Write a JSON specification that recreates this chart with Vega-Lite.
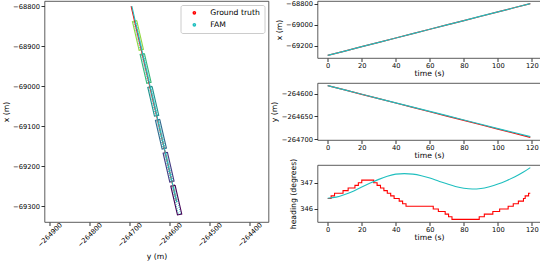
{
  "$schema": "https://vega.github.io/schema/vega-lite/v6.json",
  "background": "white",
  "padding": {"left": 1.5, "top": 0, "right": 2, "bottom": 2},
  "bounds": "flush",
  "spacing": 49,
  "config": {
    "font": "DejaVu Sans",
    "view": {"stroke": "#333", "strokeWidth": 0.8},
    "axis": {
      "grid": false, "domain": false,
      "labelFont": "DejaVu Sans", "labelFontSize": 6.7, "labelColor": "#000",
      "titleFont": "DejaVu Sans", "titleFontSize": 7.7, "titleFontWeight": "normal", "titleColor": "#000",
      "tickColor": "#333", "tickSize": 3.5, "labelPadding": 1.5, "titlePadding": 2.5
    },
    "axisBottom": {"labelPadding": 0.5, "titlePadding": 0.5},
    "legend": {
      "labelFont": "DejaVu Sans", "labelFontSize": 7.7, "labelColor": "#000"
    }
  },
  "datasets": {
    "track": [
      {"time": 0, "x": -69290, "y": -264582, "series": "Ground truth"},
      {"time": 10, "x": -69248.8, "y": -264591.6, "series": "Ground truth"},
      {"time": 20, "x": -69207.6, "y": -264601.2, "series": "Ground truth"},
      {"time": 30, "x": -69166.5, "y": -264610.7, "series": "Ground truth"},
      {"time": 40, "x": -69125.3, "y": -264620.3, "series": "Ground truth"},
      {"time": 50, "x": -69084.1, "y": -264629.9, "series": "Ground truth"},
      {"time": 60, "x": -69042.9, "y": -264639.5, "series": "Ground truth"},
      {"time": 70, "x": -69001.8, "y": -264649.1, "series": "Ground truth"},
      {"time": 80, "x": -68960.6, "y": -264658.6, "series": "Ground truth"},
      {"time": 90, "x": -68919.4, "y": -264668.2, "series": "Ground truth"},
      {"time": 100, "x": -68878.2, "y": -264677.8, "series": "Ground truth"},
      {"time": 110, "x": -68837.1, "y": -264687.4, "series": "Ground truth"},
      {"time": 119, "x": -68800, "y": -264696, "series": "Ground truth"},
      {"time": 0, "x": -69290, "y": -264582, "series": "FAM"},
      {"time": 10, "x": -69248.8, "y": -264591.5, "series": "FAM"},
      {"time": 20, "x": -69207.6, "y": -264601.0, "series": "FAM"},
      {"time": 30, "x": -69166.4, "y": -264610.5, "series": "FAM"},
      {"time": 40, "x": -69125.2, "y": -264620.0, "series": "FAM"},
      {"time": 50, "x": -69084.0, "y": -264629.4, "series": "FAM"},
      {"time": 60, "x": -69042.8, "y": -264638.8, "series": "FAM"},
      {"time": 70, "x": -69001.6, "y": -264648.2, "series": "FAM"},
      {"time": 80, "x": -68960.4, "y": -264657.7, "series": "FAM"},
      {"time": 90, "x": -68919.2, "y": -264667.1, "series": "FAM"},
      {"time": 100, "x": -68878.0, "y": -264676.5, "series": "FAM"},
      {"time": 110, "x": -68836.9, "y": -264685.8, "series": "FAM"},
      {"time": 119, "x": -68799.8, "y": -264694.2, "series": "FAM"}
    ],
    "heading": [
      {"time": 0, "heading": 346.4, "series": "Ground truth"},
      {"time": 2, "heading": 346.5, "series": "Ground truth"},
      {"time": 4, "heading": 346.6, "series": "Ground truth"},
      {"time": 9, "heading": 346.7, "series": "Ground truth"},
      {"time": 12, "heading": 346.8, "series": "Ground truth"},
      {"time": 16, "heading": 346.9, "series": "Ground truth"},
      {"time": 18, "heading": 347.0, "series": "Ground truth"},
      {"time": 20, "heading": 347.1, "series": "Ground truth"},
      {"time": 27, "heading": 347.0, "series": "Ground truth"},
      {"time": 29, "heading": 346.9, "series": "Ground truth"},
      {"time": 31, "heading": 346.8, "series": "Ground truth"},
      {"time": 33, "heading": 346.7, "series": "Ground truth"},
      {"time": 35, "heading": 346.6, "series": "Ground truth"},
      {"time": 37, "heading": 346.5, "series": "Ground truth"},
      {"time": 39, "heading": 346.4, "series": "Ground truth"},
      {"time": 42, "heading": 346.3, "series": "Ground truth"},
      {"time": 44, "heading": 346.2, "series": "Ground truth"},
      {"time": 46, "heading": 346.1, "series": "Ground truth"},
      {"time": 62, "heading": 346.0, "series": "Ground truth"},
      {"time": 65, "heading": 345.9, "series": "Ground truth"},
      {"time": 69, "heading": 345.8, "series": "Ground truth"},
      {"time": 71, "heading": 345.7, "series": "Ground truth"},
      {"time": 73, "heading": 345.6, "series": "Ground truth"},
      {"time": 89, "heading": 345.7, "series": "Ground truth"},
      {"time": 92, "heading": 345.8, "series": "Ground truth"},
      {"time": 97, "heading": 345.9, "series": "Ground truth"},
      {"time": 101, "heading": 346.0, "series": "Ground truth"},
      {"time": 106, "heading": 346.1, "series": "Ground truth"},
      {"time": 109, "heading": 346.2, "series": "Ground truth"},
      {"time": 112, "heading": 346.3, "series": "Ground truth"},
      {"time": 115, "heading": 346.4, "series": "Ground truth"},
      {"time": 116, "heading": 346.5, "series": "Ground truth"},
      {"time": 118, "heading": 346.6, "series": "Ground truth"},
      {"time": 119, "heading": 346.6, "series": "Ground truth"},
      {"time": 0, "heading": 346.41, "series": "FAM"},
      {"time": 5, "heading": 346.45, "series": "FAM"},
      {"time": 10, "heading": 346.55, "series": "FAM"},
      {"time": 15, "heading": 346.68, "series": "FAM"},
      {"time": 20, "heading": 346.84, "series": "FAM"},
      {"time": 25, "heading": 346.99, "series": "FAM"},
      {"time": 30, "heading": 347.13, "series": "FAM"},
      {"time": 35, "heading": 347.25, "series": "FAM"},
      {"time": 40, "heading": 347.33, "series": "FAM"},
      {"time": 45, "heading": 347.35, "series": "FAM"},
      {"time": 50, "heading": 347.33, "series": "FAM"},
      {"time": 55, "heading": 347.27, "series": "FAM"},
      {"time": 60, "heading": 347.18, "series": "FAM"},
      {"time": 65, "heading": 347.07, "series": "FAM"},
      {"time": 70, "heading": 346.96, "series": "FAM"},
      {"time": 75, "heading": 346.86, "series": "FAM"},
      {"time": 80, "heading": 346.79, "series": "FAM"},
      {"time": 85, "heading": 346.76, "series": "FAM"},
      {"time": 90, "heading": 346.78, "series": "FAM"},
      {"time": 95, "heading": 346.85, "series": "FAM"},
      {"time": 100, "heading": 346.95, "series": "FAM"},
      {"time": 105, "heading": 347.08, "series": "FAM"},
      {"time": 110, "heading": 347.23, "series": "FAM"},
      {"time": 115, "heading": 347.41, "series": "FAM"},
      {"time": 119, "heading": 347.58, "series": "FAM"}
    ],
    "ships": [
      {"ship": 0, "t": 0, "k": 0, "x": -69247.81, "y": -264586.07},
      {"ship": 0, "t": 0, "k": 1, "x": -69250.29, "y": -264596.78},
      {"ship": 0, "t": 0, "k": 2, "x": -69322.39, "y": -264580.13},
      {"ship": 0, "t": 0, "k": 3, "x": -69319.91, "y": -264569.42},
      {"ship": 0, "t": 0, "k": 4, "x": -69247.81, "y": -264586.07},
      {"ship": 1, "t": 20, "k": 0, "x": -69165.41, "y": -264605.27},
      {"ship": 1, "t": 20, "k": 1, "x": -69167.89, "y": -264615.98},
      {"ship": 1, "t": 20, "k": 2, "x": -69239.99, "y": -264599.33},
      {"ship": 1, "t": 20, "k": 3, "x": -69237.51, "y": -264588.62},
      {"ship": 1, "t": 20, "k": 4, "x": -69165.41, "y": -264605.27},
      {"ship": 2, "t": 40, "k": 0, "x": -69083.11, "y": -264624.37},
      {"ship": 2, "t": 40, "k": 1, "x": -69085.59, "y": -264635.08},
      {"ship": 2, "t": 40, "k": 2, "x": -69157.69, "y": -264618.43},
      {"ship": 2, "t": 40, "k": 3, "x": -69155.21, "y": -264607.72},
      {"ship": 2, "t": 40, "k": 4, "x": -69083.11, "y": -264624.37},
      {"ship": 3, "t": 60, "k": 0, "x": -69000.71, "y": -264643.57},
      {"ship": 3, "t": 60, "k": 1, "x": -69003.19, "y": -264654.28},
      {"ship": 3, "t": 60, "k": 2, "x": -69075.29, "y": -264637.63},
      {"ship": 3, "t": 60, "k": 3, "x": -69072.81, "y": -264626.92},
      {"ship": 3, "t": 60, "k": 4, "x": -69000.71, "y": -264643.57},
      {"ship": 4, "t": 80, "k": 0, "x": -68918.41, "y": -264662.67},
      {"ship": 4, "t": 80, "k": 1, "x": -68920.89, "y": -264673.38},
      {"ship": 4, "t": 80, "k": 2, "x": -68992.99, "y": -264656.73},
      {"ship": 4, "t": 80, "k": 3, "x": -68990.51, "y": -264646.02},
      {"ship": 4, "t": 80, "k": 4, "x": -68918.41, "y": -264662.67},
      {"ship": 5, "t": 100, "k": 0, "x": -68836.01, "y": -264681.87},
      {"ship": 5, "t": 100, "k": 1, "x": -68838.49, "y": -264692.58},
      {"ship": 5, "t": 100, "k": 2, "x": -68910.59, "y": -264675.93},
      {"ship": 5, "t": 100, "k": 3, "x": -68908.11, "y": -264665.22},
      {"ship": 5, "t": 100, "k": 4, "x": -68836.01, "y": -264681.87}
    ],
    "hull": [
      {"ship": 0, "k": 0, "x": -69250.37, "y": -264588.25},
      {"ship": 0, "k": 1, "x": -69251.63, "y": -264593.70},
      {"ship": 0, "k": 2, "x": -69319.83, "y": -264577.95},
      {"ship": 0, "k": 3, "x": -69318.57, "y": -264572.50},
      {"ship": 0, "k": 4, "x": -69250.37, "y": -264588.25},
      {"ship": 1, "k": 0, "x": -69167.97, "y": -264607.45},
      {"ship": 1, "k": 1, "x": -69169.23, "y": -264612.90},
      {"ship": 1, "k": 2, "x": -69237.43, "y": -264597.15},
      {"ship": 1, "k": 3, "x": -69236.17, "y": -264591.70},
      {"ship": 1, "k": 4, "x": -69167.97, "y": -264607.45},
      {"ship": 2, "k": 0, "x": -69085.67, "y": -264626.55},
      {"ship": 2, "k": 1, "x": -69086.93, "y": -264632.00},
      {"ship": 2, "k": 2, "x": -69155.13, "y": -264616.25},
      {"ship": 2, "k": 3, "x": -69153.87, "y": -264610.80},
      {"ship": 2, "k": 4, "x": -69085.67, "y": -264626.55},
      {"ship": 3, "k": 0, "x": -69003.27, "y": -264645.75},
      {"ship": 3, "k": 1, "x": -69004.53, "y": -264651.20},
      {"ship": 3, "k": 2, "x": -69072.73, "y": -264635.45},
      {"ship": 3, "k": 3, "x": -69071.47, "y": -264630.00},
      {"ship": 3, "k": 4, "x": -69003.27, "y": -264645.75},
      {"ship": 4, "k": 0, "x": -68920.97, "y": -264664.85},
      {"ship": 4, "k": 1, "x": -68922.23, "y": -264670.30},
      {"ship": 4, "k": 2, "x": -68990.43, "y": -264654.55},
      {"ship": 4, "k": 3, "x": -68989.17, "y": -264649.10},
      {"ship": 4, "k": 4, "x": -68920.97, "y": -264664.85},
      {"ship": 5, "k": 0, "x": -68838.57, "y": -264684.05},
      {"ship": 5, "k": 1, "x": -68839.83, "y": -264689.50},
      {"ship": 5, "k": 2, "x": -68908.03, "y": -264673.75},
      {"ship": 5, "k": 3, "x": -68906.77, "y": -264668.30},
      {"ship": 5, "k": 4, "x": -68838.57, "y": -264684.05}
    ]
  },
  "resolve": {"scale": {"color": "independent"}, "legend": {"color": "independent"}},
  "hconcat": [
    {
      "width": 224,
      "height": 221,
      "resolve": {"scale": {"color": "independent"}, "legend": {"color": "independent"}},
      "layer": [
        {
          "data": {"name": "hull"},
          "mark": {"type": "line", "strokeWidth": 1, "color": "#1fbfbf", "strokeDash": [1, 1], "opacity": 0.85},
          "encoding": {
            "x": {"field": "y", "type": "quantitative",
              "scale": {"domain": [-264912.5, -264352.5], "nice": false, "zero": false},
              "axis": {"values": [-264900, -264800, -264700, -264600, -264500, -264400], "format": "d", "labelAngle": -45, "labelAlign": "center", "labelBaseline": "middle", "labelPadding": 9, "title": "y (m)", "titlePadding": 4}},
            "y": {"field": "x", "type": "quantitative",
              "scale": {"domain": [-69340, -68787], "nice": false, "zero": false},
              "axis": {"values": [-69300, -69200, -69100, -69000, -68900, -68800], "format": "d", "title": "x (m)"}},
            "order": {"field": "k", "type": "quantitative"},
            "detail": {"field": "ship", "type": "nominal"}
          }
        },
        {
          "data": {"name": "ships"},
          "mark": {"type": "line", "strokeWidth": 1.1},
          "encoding": {
            "x": {"field": "y", "type": "quantitative"},
            "y": {"field": "x", "type": "quantitative"},
            "order": {"field": "k", "type": "quantitative"},
            "detail": {"field": "ship", "type": "nominal"},
            "color": {"field": "t", "type": "quantitative", "scale": {"scheme": "viridis", "domain": [0, 119]}, "legend": null}
          }
        },
        {
          "data": {"name": "track"},
          "mark": {"type": "line", "strokeWidth": 1.1},
          "encoding": {
            "x": {"field": "y", "type": "quantitative"},
            "y": {"field": "x", "type": "quantitative"},
            "order": {"field": "time", "type": "quantitative"},
            "color": {"field": "series", "type": "nominal",
              "scale": {"domain": ["Ground truth", "FAM"], "range": ["#ff0000", "#1fbfbf"]},
              "legend": {"title": null, "orient": "top-right", "offset": 4, "fillColor": "white", "strokeColor": "#cccccc", "cornerRadius": 2, "padding": 4, "symbolType": "circle", "symbolSize": 5, "symbolStrokeWidth": 1.5, "symbolOffset": 6, "labelOffset": 12, "rowPadding": 3}}
          }
        }
      ]
    },
    {
      "vconcat": [
        {
          "width": 223,
          "height": 57,
          "data": {"name": "track"},
          "encoding": {
            "x": {"field": "time", "type": "quantitative",
              "scale": {"domain": [-6, 125], "nice": false, "zero": false},
              "axis": {"values": [0, 20, 40, 60, 80, 100, 120], "title": "time (s)"}},
            "y": {"field": "x", "type": "quantitative",
              "scale": {"domain": [-69314.5, -68775.5], "nice": false, "zero": false},
              "axis": {"values": [-69200, -69000, -68800], "format": "d", "title": "x (m)"}},
            "color": {"field": "series", "type": "nominal",
              "scale": {"domain": ["Ground truth", "FAM"], "range": ["#ff0000", "#1fbfbf"]}, "legend": null},
            "order": {"field": "time", "type": "quantitative"}
          },
          "layer": [
            {"transform": [{"filter": {"field": "series", "equal": "Ground truth"}}], "mark": {"type": "line", "strokeWidth": 1.2}},
            {"transform": [{"filter": {"field": "series", "equal": "FAM"}}], "mark": {"type": "line", "strokeWidth": 1.2}}
          ]
        },
        {
          "width": 223,
          "height": 57,
          "data": {"name": "track"},
          "encoding": {
            "x": {"field": "time", "type": "quantitative",
              "scale": {"domain": [-6, 125], "nice": false, "zero": false},
              "axis": {"values": [0, 20, 40, 60, 80, 100, 120], "title": "time (s)"}},
            "y": {"field": "y", "type": "quantitative",
              "scale": {"domain": [-264701.7, -264576.3], "nice": false, "zero": false},
              "axis": {"values": [-264700, -264650, -264600], "format": "d", "title": "y (m)"}},
            "color": {"field": "series", "type": "nominal",
              "scale": {"domain": ["Ground truth", "FAM"], "range": ["#ff0000", "#1fbfbf"]}, "legend": null},
            "order": {"field": "time", "type": "quantitative"}
          },
          "layer": [
            {"transform": [{"filter": {"field": "series", "equal": "Ground truth"}}], "mark": {"type": "line", "strokeWidth": 1.2}},
            {"transform": [{"filter": {"field": "series", "equal": "FAM"}}], "mark": {"type": "line", "strokeWidth": 1.2}}
          ]
        },
        {
          "width": 223,
          "height": 57,
          "data": {"name": "heading"},
          "encoding": {
            "x": {"field": "time", "type": "quantitative",
              "scale": {"domain": [-6, 125], "nice": false, "zero": false},
              "axis": {"values": [0, 20, 40, 60, 80, 100, 120], "title": "time (s)"}},
            "y": {"field": "heading", "type": "quantitative",
              "scale": {"domain": [345.5, 347.68], "nice": false, "zero": false},
              "axis": {"values": [346, 347], "format": "d", "title": "heading (degrees)"}},
            "color": {"field": "series", "type": "nominal",
              "scale": {"domain": ["Ground truth", "FAM"], "range": ["#ff0000", "#1fbfbf"]}, "legend": null},
            "order": {"field": "time", "type": "quantitative"}
          },
          "layer": [
            {"transform": [{"filter": {"field": "series", "equal": "Ground truth"}}], "mark": {"type": "line", "strokeWidth": 1.1, "interpolate": "step-after"}},
            {"transform": [{"filter": {"field": "series", "equal": "FAM"}}], "mark": {"type": "line", "strokeWidth": 1.1, "interpolate": "monotone"}}
          ]
        }
      ],
      "spacing": 25,
      "bounds": "flush"
    }
  ]
}
